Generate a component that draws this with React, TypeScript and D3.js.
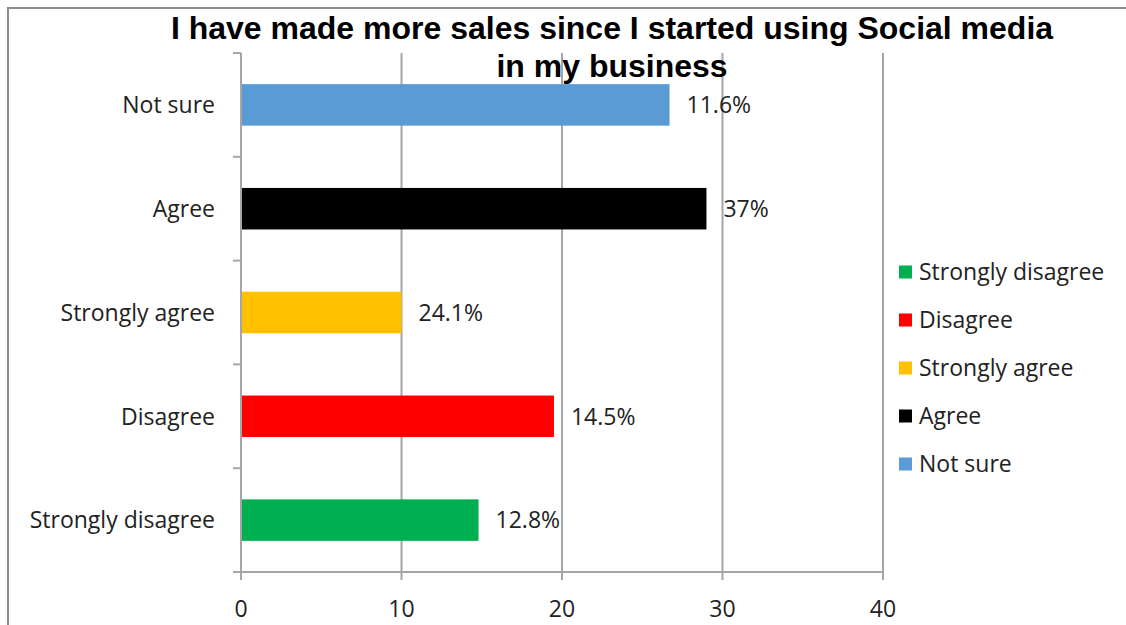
import React from "react";
import * as d3 from "d3";

const categories = ["Strongly disagree", "Disagree", "Strongly agree", "Agree", "Not sure"];
const values = [14.8, 19.5, 10, 29, 26.7];
const valueLabels = ["12.8%", "14.5%", "24.1%", "37%", "11.6%"];
const colors = ["#00b050", "#ff0000", "#ffc000", "#000000", "#5b9bd5"];
const xTicks = [0, 10, 20, 30, 40];
const titleLines = ["I have made more sales since I started using Social media", "in my business"];

const W = 1126;
const H = 625;
const plot = { left: 241, right: 883, top: 53, bottom: 572 };
const FONT = "'Open Sans', sans-serif";
const FS = 23;
const GRID = "#a6a6a6";

export default function App() {
  const x = d3.scaleLinear().domain([0, 40]).range([plot.left, plot.right]);
  const order = categories.map((c, i) => i).reverse();
  const y = d3
    .scaleBand<string>()
    .domain(order.map((i) => categories[i]))
    .range([plot.top, plot.bottom])
    .padding(0);
  const bw = y.bandwidth();
  const boundaries = d3.range(categories.length + 1).map((k) => plot.top + k * y.step());

  return (
    <svg
      width={W}
      height={H}
      style={{ position: "absolute", left: 0, top: 0, background: "#fff" }}
    >
      <rect x={8} y={8} width={W + 20} height={H + 20} fill="#fff" stroke="#8c8c8c" strokeWidth={2} />
      {/* gridlines */}
      {xTicks.filter((t) => t > 0).map((t) => (
        <line key={t} x1={x(t)} x2={x(t)} y1={plot.top} y2={plot.bottom} stroke={GRID} strokeWidth={2} />
      ))}
      {/* title */}
      {titleLines.map((t, i) => (
        <text
          key={i}
          x={612}
          y={39 + i * 38}
          textAnchor="middle"
          fontFamily="'Liberation Sans', Arial, sans-serif"
          fontWeight="bold"
          fontSize={32}
          fill="#000"
        >
          {t}
        </text>
      ))}
      {/* bars */}
      {categories.map((c, i) => (
        <rect
          key={c}
          x={x(0)}
          y={(y(c) as number) + bw * 0.3}
          width={x(values[i]) - x(0)}
          height={bw * 0.4}
          fill={colors[i]}
        />
      ))}
      {/* value labels */}
      {categories.map((c, i) => (
        <text
          key={c}
          x={x(values[i]) + 17}
          y={(y(c) as number) + bw / 2}
          dy="0.36em"
          fontFamily={FONT}
          fontSize={FS}
          fill="#222"
        >
          {valueLabels[i]}
        </text>
      ))}
      {/* y axis */}
      <line x1={plot.left} x2={plot.left} y1={plot.top} y2={plot.bottom} stroke={GRID} strokeWidth={2} />
      {boundaries.map((b, k) => (
        <line key={k} x1={plot.left - 8} x2={plot.left} y1={b} y2={b} stroke={GRID} strokeWidth={2} />
      ))}
      {categories.map((c) => (
        <text
          key={c}
          x={215}
          y={(y(c) as number) + bw / 2}
          dy="0.36em"
          textAnchor="end"
          fontFamily={FONT}
          fontSize={FS}
          fill="#222"
        >
          {c}
        </text>
      ))}
      {/* x axis */}
      <line x1={plot.left - 8} x2={plot.right} y1={plot.bottom} y2={plot.bottom} stroke={GRID} strokeWidth={2} />
      {xTicks.map((t) => (
        <g key={t}>
          <line x1={x(t)} x2={x(t)} y1={plot.bottom} y2={plot.bottom + 8} stroke={GRID} strokeWidth={2} />
          <text
            x={x(t)}
            y={617}
            textAnchor="middle"
            fontFamily={FONT}
            fontSize={FS}
            fill="#222"
          >
            {t}
          </text>
        </g>
      ))}
      {/* legend */}
      {categories.map((c, i) => (
        <g key={c} transform={`translate(899, ${272 + i * 48})`}>
          <rect x={0} y={-6.5} width={13} height={13} fill={colors[i]} />
          <text x={20} y={0} dy="0.36em" fontFamily={FONT} fontSize={FS} fill="#222">
            {c}
          </text>
        </g>
      ))}
    </svg>
  );
}
